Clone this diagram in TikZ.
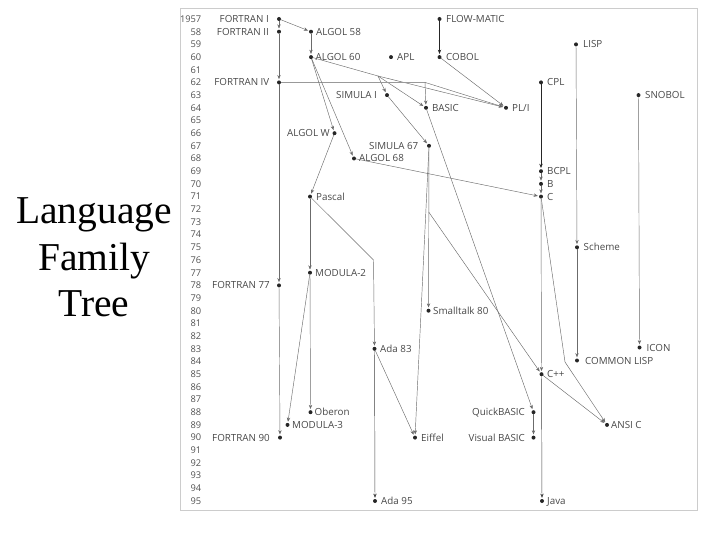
\documentclass[tikz,border=0pt]{standalone}
\usepackage{fontspec}
\newfontfamily\lf{Open Sans}
\newfontfamily\tf{Liberation Serif}
\usetikzlibrary{arrows.meta}
\begin{document}
\begin{tikzpicture}[x=1pt,y=-1pt,
  dot/.style={circle,fill=black!85,inner sep=0pt,minimum size=4pt,outer sep=0pt},
  lblR/.style={font=\lf\fontsize{9.8}{10}\selectfont,text=black!72,inner sep=0pt,text height=7pt,text depth=0pt,anchor=west},
  lblL/.style={lblR,anchor=east},
  yr/.style={font=\lf\fontsize{9.3}{10}\selectfont,text=black!68,inner sep=0pt,text height=6.7pt,text depth=0pt,anchor=east},
  ttl/.style={font=\tf\fontsize{39.5}{46}\selectfont,anchor=base,inner sep=0pt},
  link/.style={draw=black!58,line width=0.45pt},
  edge/.style={link,-{Stealth[length=4.2pt,width=3.4pt]},shorten >=1.2pt},
  heavy/.style={edge,draw=black!85,line width=0.8pt}
]
\useasboundingbox (0,0) rectangle (720,540);
% frame
\draw[black!20,line width=0.8pt] (180,8) rectangle (697,510);
% title
\node[ttl] (t1) at (94,223.3) {Language};
\node[ttl] (t2) at (94,270.5) {Family};
\node[ttl] (t3) at (94,316.7) {Tree};
% years
\node[yr] (y57) at (201.5,19) {1957};
\foreach \i in {58,...,95}{
  \node[yr] (y\i) at (201.5,{19+(\i-57)*12.684}) {\i};
}
% languages
\node[dot] (f1) at (279,19) {};      \node[lblL] (f1l) at (269,19) {FORTRAN I};
\node[dot] (f2) at (279,31.7) {};    \node[lblL] (f2l) at (269,31.7) {FORTRAN II};
\node[dot] (a58) at (311,31.7) {};   \node[lblR] (a58l) at (316,31.7) {ALGOL 58};
\node[dot] (a60) at (311,57.1) {};   \node[lblR] (a60l) at (315.5,57.1) {ALGOL 60};
\node[dot] (apl) at (391,57.1) {};   \node[lblR] (apll) at (397,57.1) {APL};
\node[dot] (flow) at (439.5,19) {};  \node[lblR] (flowl) at (446,19) {FLOW-MATIC};
\node[dot] (cobol) at (439.5,57.1) {}; \node[lblR] (cobolll) at (446,57.1) {COBOL};
\node[dot] (lisp) at (576,44.4) {};  \node[lblR] (lispl) at (583,44.4) {LISP};
\node[dot] (f4) at (279,82.4) {};    \node[lblL] (f4l) at (269.5,82.4) {FORTRAN IV};
\node[dot] (cpl) at (541,82.4) {};   \node[lblR] (cpll) at (547,82.4) {CPL};
\node[dot] (snobol) at (638.5,95.1) {}; \node[lblR] (snoboll) at (645,95.1) {SNOBOL};
\node[dot] (simI) at (387,95.1) {};  \node[lblL] (simIl) at (377,95.1) {SIMULA I};
\node[dot] (basic) at (426,107.8) {}; \node[lblR] (basicl) at (432,107.8) {BASIC};
\node[dot] (pli) at (506,107.8) {};  \node[lblR] (plil) at (512,107.8) {PL/I};
\node[dot] (algw) at (334.5,133.2) {}; \node[lblL] (algwl) at (330,133.2) {ALGOL W};
\node[dot] (sim67) at (429,145.8) {}; \node[lblL] (sim67l) at (418.5,145.8) {SIMULA 67};
\node[dot] (a68) at (354,158.5) {};  \node[lblR] (a68l) at (359,158.5) {ALGOL 68};
\node[dot] (bcpl) at (541,171.2) {}; \node[lblR] (bcpll) at (547,171.2) {BCPL};
\node[dot] (b) at (541,183.9) {};    \node[lblR] (bl) at (547,183.9) {B};
\node[dot] (c) at (541,196.6) {};    \node[lblR] (cl) at (547,196.6) {C};
\node[dot] (pascal) at (310,196.6) {}; \node[lblR] (pascall) at (316,196.6) {Pascal};
\node[dot] (scheme) at (577,247.3) {}; \node[lblR] (schemel) at (583.5,247.3) {Scheme};
\node[dot] (mod2) at (310,272.7) {}; \node[lblR] (mod2l) at (315,272.7) {MODULA-2};
\node[dot] (f77) at (279,285.4) {};  \node[lblL] (f77l) at (270,285.4) {FORTRAN 77};
\node[dot] (st80) at (428.5,310.7) {}; \node[lblR] (st80l) at (433,310.7) {Smalltalk 80};
\node[dot] (ada83) at (374.5,348.8) {}; \node[lblR] (ada83l) at (380,348.8) {Ada 83};
\node[dot] (icon) at (639.5,347.5) {}; \node[lblR] (iconl) at (646.5,347.5) {ICON};
\node[dot] (clisp) at (577,360.5) {}; \node[lblR] (clispl) at (585,360.5) {COMMON LISP};
\node[dot] (cpp) at (541.5,374.2) {}; \node[lblR] (cppl) at (547,374.2) {C++};
\node[dot] (oberon) at (310.5,412.2) {}; \node[lblR] (oberonl) at (314.5,412.2) {Oberon};
\node[dot] (qb) at (533.5,412.2) {}; \node[lblL] (qbl) at (525,412.2) {QuickBASIC};
\node[dot] (mod3) at (287.5,424.9) {}; \node[lblR] (mod3l) at (292,424.9) {MODULA-3};
\node[dot] (ansic) at (607,424.9) {}; \node[lblR] (ansicl) at (611,424.9) {ANSI C};
\node[dot] (f90) at (280,437.6) {};  \node[lblL] (f90l) at (270,437.6) {FORTRAN 90};
\node[dot] (eiffel) at (415,437.6) {}; \node[lblR] (eiffell) at (421,437.6) {Eiffel};
\node[dot] (vb) at (533.5,437.6) {}; \node[lblL] (vbl) at (525,437.6) {Visual BASIC};
\node[dot] (ada95) at (375,501) {};  \node[lblR] (ada95l) at (381,501) {Ada 95};
\node[dot] (java) at (542,501) {};   \node[lblR] (javal) at (547,501) {Java};
% branch / bend points
\coordinate (ab) at (378,76);
\coordinate (fb) at (425,82.4);
\coordinate (pb) at (373.5,260);
\coordinate (sb) at (428.7,212);
\coordinate (cb) at (565,362);
% connectors
\draw[edge] (f1) -- (f2);
\draw[edge] (f2) -- (f4);
\draw[edge] (f4) -- (f77);
\draw[edge] (f77) -- (f90);
\draw[edge] (f1) -- (a58);
\draw[edge] (a58) -- (a60);
\draw[heavy] (flow) -- (cobol);
\draw[edge] (cobol) -- (pli);
\draw[link] (a60) -- (ab);
\draw[edge] (ab) -- (simI);
\draw[edge] (ab) -- (basic);
\draw[edge] (ab) -- (pli);
\draw[link,draw=black!40] (f4) -- (fb);
\draw[edge] (fb) -- (basic);
\draw[edge] (fb) -- (pli);
\draw[edge] (a60) -- (algw);
\draw[edge] (a60) -- (a68);
\draw[edge] (simI) -- (sim67);
\draw[edge] (a68) -- (c);
\draw[heavy] (cpl) -- (bcpl);
\draw[edge] (bcpl) -- (b);
\draw[edge] (b) -- (c);
\draw[edge] (algw) -- (pascal);
\draw[edge] (pascal) -- (mod2);
\draw[edge] (pascal) -- (pb) -- (ada83);
\draw[edge] (mod2) -- (oberon);
\draw[edge] (mod2) -- (mod3);
\draw[edge] (sim67) -- (st80);
\draw[edge] (sim67) -- (eiffel);
\draw[edge] (sb) -- (cpp);
\draw[edge] (basic) -- (qb);
\draw[edge] (qb) -- (vb);
\draw[edge] (c) -- (cpp);
\draw[edge,draw=black!75] (cpp) -- (java);
\draw[edge] (c) -- (cb) -- (ansic);
\draw[edge] (cpp) -- (ansic);
\draw[edge] (lisp) -- (scheme);
\draw[edge] (scheme) -- (clisp);
\draw[edge] (snobol) -- (icon);
\draw[edge,draw=black!75] (ada83) -- (ada95);
\draw[edge] (ada83) -- (eiffel);
\end{tikzpicture}
\end{document}
